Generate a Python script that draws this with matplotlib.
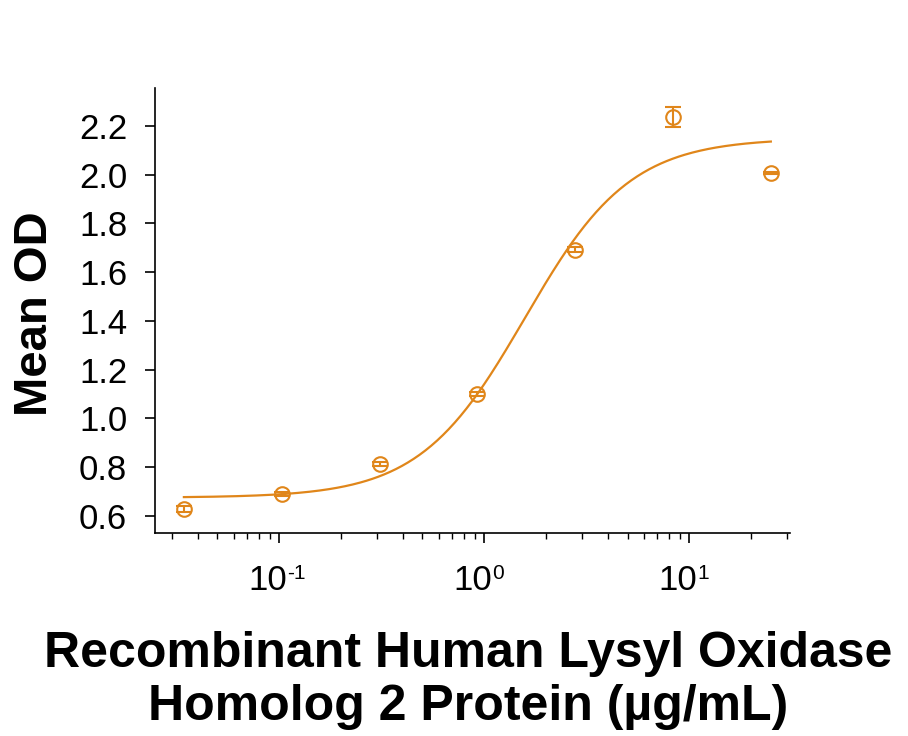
import numpy as np
import matplotlib
matplotlib.use("Agg")
import matplotlib.pyplot as plt
import matplotlib.transforms as mtransforms
from matplotlib.ticker import LogLocator, NullFormatter

plt.rcParams['font.family'] = ['Liberation Sans', 'DejaVu Sans']

# Data (concentration in ug/mL, mean OD, error)
conc = [0.0343, 0.1029, 0.3086, 0.926, 2.78, 8.33, 25.0]
mean_od = [0.629, 0.690, 0.813, 1.100, 1.692, 2.237, 2.007]
err = [0.012, 0.008, 0.010, 0.008, 0.010, 0.040, 0.004]

# 4-parameter logistic fit parameters
fit_bottom = 0.675
fit_top = 2.15
fit_ec50 = 1.58
fit_hill = 1.69

yticks = [0.6, 0.8, 1.0, 1.2, 1.4, 1.6, 1.8, 2.0, 2.2]
xticks = [0.1, 1, 10]
xtick_exponents = ['-1', '0', '1']

color = '#E0861A'
W, H = 908, 736

fig = plt.figure(figsize=(W / 100, H / 100), dpi=100)
ax = fig.add_axes([155 / W, 1 - 533 / H, (790 - 155) / W, (533 - 88) / H])

xs = np.logspace(np.log10(conc[0]), np.log10(conc[-1]), 300)
ys = fit_bottom + (fit_top - fit_bottom) / (1 + (fit_ec50 / xs) ** fit_hill)
ax.plot(xs, ys, color=color, lw=1.6)

ax.errorbar(conc, mean_od, yerr=err, fmt='o', mfc='none', mec=color,
            ecolor=color, color=color, ms=10.5, mew=1.5, elinewidth=1.5,
            capsize=6, capthick=1.5)

ax.set_xscale('log')
ax.set_xlim(0.0248, 31)
ax.set_ylim(0.53, 2.356)

ax.set_xticks(xticks)
ax.set_xticklabels([''] * len(xticks))
ax.xaxis.set_minor_locator(LogLocator(base=10, subs=np.arange(2, 10), numticks=20))
ax.xaxis.set_minor_formatter(NullFormatter())
ax.set_yticks(yticks)
ax.set_yticklabels([f'{v:.1f}' for v in yticks])

for s in ['top', 'right']:
    ax.spines[s].set_visible(False)
for s in ['left', 'bottom']:
    ax.spines[s].set_linewidth(1.2)

ax.tick_params(axis='both', which='major', direction='out', length=7, width=1.2,
               labelsize=25, pad=13)
ax.tick_params(axis='x', which='minor', direction='out', length=4, width=1.0)

# x tick labels: "10" with a raised exponent (hyphen style as in reference)
trans = mtransforms.blended_transform_factory(ax.transData, fig.transFigure)
base_y = 1 - 590 / H
for xt, ex in zip(xticks, xtick_exponents):
    ax.annotate('10', xy=(xt, base_y), xycoords=trans, xytext=(5.4, 0),
                textcoords='offset points', fontsize=25, ha='right',
                va='baseline', annotation_clip=False)
    ax.annotate(ex, xy=(xt, base_y), xycoords=trans, xytext=(5.8, 8.2),
                textcoords='offset points', fontsize=15, ha='left',
                va='baseline', annotation_clip=False)

fig.text(35 / W, 1 - 314 / H, 'Mean OD', fontsize=34, fontweight='bold',
         rotation=90, ha='center', va='center')
fig.text(468 / W, 1 - 720 / H,
         'Recombinant Human Lysyl Oxidase\nHomolog 2 Protein (\u00b5g/mL)',
         fontsize=36, fontweight='bold', ha='center', va='baseline',
         linespacing=1.2, multialignment='center')

fig.savefig('out.png', dpi=100)
